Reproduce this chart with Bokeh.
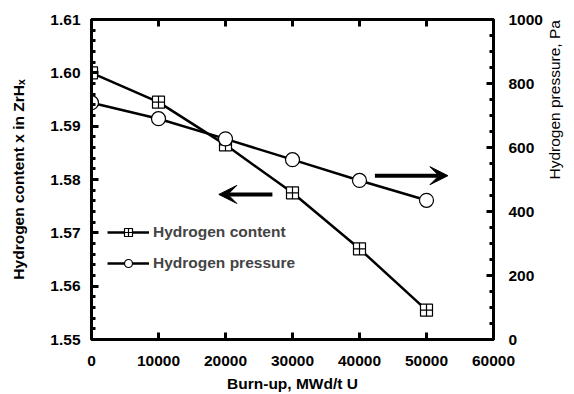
import math
from bokeh.plotting import figure
from bokeh.models import (Range1d, LinearAxis, SingleIntervalTicker, Legend, LegendItem,
                          Arrow, VeeHead, PrintfTickFormatter, CustomJSTickFormatter)
from bokeh.embed import file_html
from bokeh.resources import INLINE

# ---- data ----
burnup = [0, 10000, 20000, 30000, 40000, 50000]
h_content = [1.600, 1.5945, 1.5865, 1.5775, 1.567, 1.5555]
h_pressure = [740, 690, 627, 562, 497, 435]

x_ticks = [0, 10000, 20000, 30000, 40000, 50000, 60000]
left_ticks = [1.55, 1.56, 1.57, 1.58, 1.59, 1.60, 1.61]
right_ticks = [0, 200, 400, 600, 800, 1000]

# arrows (data coords): left arrow points to left axis, right arrow to right axis
arrow_left = dict(x0=27000, x1=19000, y=1.5772)
arrow_right = dict(x0=42300, x1=53200, y=512)

FONT = "Liberation Sans"
TICK_SIZE = "15.5px"
LABEL_SIZE = "15.5px"

p = figure(width=574, height=394, output_backend="svg", toolbar_location=None,
           x_range=Range1d(0, 60000), y_range=Range1d(1.55, 1.61),
           min_border_left=91, min_border_right=81, min_border_top=19, min_border_bottom=54)
p.extra_y_ranges = {"pres": Range1d(0, 1000)}
p.grid.visible = False
p.outline_line_color = "black"
p.outline_line_width = 3
p.background_fill_color = "white"
p.border_fill_color = "white"

def style(ax, size=TICK_SIZE):
    ax.axis_line_width = 3
    ax.axis_line_color = "black"
    ax.major_tick_in = 7
    ax.major_tick_out = 0
    ax.minor_tick_in = 4
    ax.minor_tick_out = 0
    ax.major_tick_line_width = 3
    ax.minor_tick_line_width = 3
    ax.major_label_text_font = FONT
    ax.major_label_text_font_style = "bold"
    ax.major_label_text_font_size = size
    ax.major_label_text_color = "black"
    ax.axis_label_text_font = FONT
    ax.axis_label_text_font_size = LABEL_SIZE
    ax.axis_label_text_color = "black"

# bottom axis
xa = p.xaxis[0]
style(xa)
xa.ticker = SingleIntervalTicker(interval=10000, num_minor_ticks=0)
xa.axis_label = "Burn-up, MWd/t U"
xa.axis_label_text_font_style = "bold"
xa.major_label_standoff = 16
xa.axis_label_standoff = 6

# left axis
ya = p.yaxis[0]
style(ya)
ya.ticker = SingleIntervalTicker(interval=0.01, num_minor_ticks=5)
ya.formatter = PrintfTickFormatter(format="%.2f")
ya.axis_label = "Hydrogen content x in ZrHₓ"
ya.axis_label_text_font_style = "bold"
ya.major_label_standoff = 11
ya.axis_label_standoff = 20

# right axis
ra = LinearAxis(y_range_name="pres", ticker=SingleIntervalTicker(interval=200, num_minor_ticks=4))
style(ra)
ra.axis_label = "Hydrogen pressure, Pa"
ra.axis_label_text_font_style = "normal"
ra.axis_label_orientation = math.pi / 2
ra.major_label_standoff = 15
ra.axis_label_standoff = 9
p.add_layout(ra, "right")

# top axis (ticks only)
ta = LinearAxis(ticker=SingleIntervalTicker(interval=10000, num_minor_ticks=0),
                formatter=CustomJSTickFormatter(code="return ''"))
style(ta)
ta.major_label_standoff = 0
p.add_layout(ta, "above")

# series
l1 = p.line(burnup, h_content, line_color="black", line_width=2.5)
s1 = p.scatter(burnup, h_content, marker="square_cross", size=12, fill_color="white",
               line_color="black", line_width=1.2)
l2 = p.line(burnup, h_pressure, line_color="black", line_width=2.5, y_range_name="pres")
s2 = p.scatter(burnup, h_pressure, marker="circle", size=14, fill_color="white",
               line_color="black", line_width=1.2, y_range_name="pres")

legend = Legend(items=[LegendItem(label="Hydrogen content", renderers=[l1, s1]),
                       LegendItem(label="Hydrogen pressure", renderers=[l2, s2])],
                location=(16, 66), glyph_width=42, glyph_height=20, spacing=11,
                padding=0, margin=0, border_line_color=None, background_fill_alpha=0,
                label_text_font=FONT, label_text_font_style="bold",
                label_text_font_size="15.5px", label_standoff=4)
p.add_layout(legend, "center")

p.add_layout(Arrow(end=VeeHead(size=18, fill_color="black", line_color="black"),
                   x_start=arrow_left["x0"], x_end=arrow_left["x1"],
                   y_start=arrow_left["y"], y_end=arrow_left["y"],
                   line_width=4, line_color="black"))
p.add_layout(Arrow(end=VeeHead(size=18, fill_color="black", line_color="black"),
                   x_start=arrow_right["x0"], x_end=arrow_right["x1"],
                   y_start=arrow_right["y"], y_end=arrow_right["y"],
                   line_width=4, line_color="black", y_range_name="pres"))

open("out.html", "w").write(file_html(p, INLINE))
